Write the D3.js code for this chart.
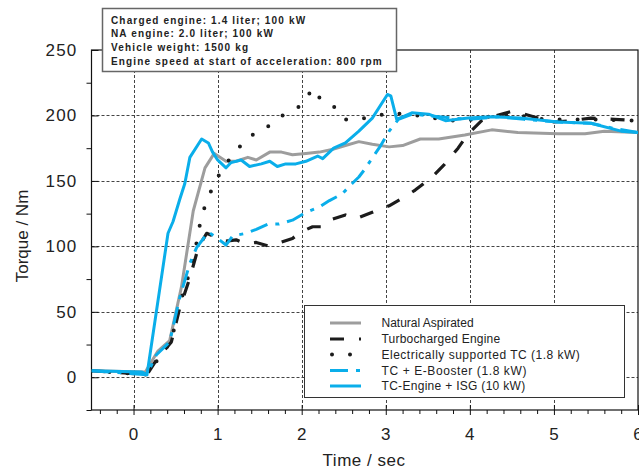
<!DOCTYPE html>
<html><head><meta charset="utf-8">
<script src="https://cdn.jsdelivr.net/npm/d3@7"></script>
<style>
body{margin:0;background:#fff;}
svg{display:block;font-family:"Liberation Sans",Arial,sans-serif;}
</style></head>
<body><svg id="c" width="639" height="469"></svg>
<script>
// ---- data ----
const xTicks = [0,1,2,3,4,5,6];
const yTicks = [0,50,100,150,200,250];
const infoLines = [
  "Charged engine: 1.4 liter; 100 kW",
  "NA engine: 2.0 liter; 100 kW",
  "Vehicle weight: 1500 kg",
  "Engine speed at start of acceleration: 800 rpm"
];
const seriesNames = [
  "Natural Aspirated",
  "Turbocharged Engine",
  "Electrically supported TC (1.8 kW)",
  "TC + E-Booster (1.8 kW)",
  "TC-Engine + ISG (10 kW)"
];
const naT = [-0.5,0.14,0.29,0.43,0.57,0.71,0.85,0.96,1.10,1.22,1.36,1.46,1.62,1.76,1.89,2.05,2.21,2.36,2.52,2.68,2.84,3.04,3.20,3.41,3.63,3.94,4.26,4.57,5.05,5.37,5.60,6.0];
const naV = [5,4,20,28,69,127,160,171,165,165,168,166,172,172,170,171,172,174,177,180,178,176,177,182,182,185,189,187,186,186,188,187];
const tcT = [-0.5,0.16,0.27,0.45,0.55,0.67,0.77,0.87,0.98,1.10,1.22,1.34,1.46,1.62,1.75,1.89,1.99,2.13,2.25,2.33,2.52,2.64,2.84,3.04,3.23,3.35,3.55,3.69,3.86,3.98,4.14,4.26,4.49,4.65,4.81,5.0,5.2,5.44,5.72,6.0];
const tcV = [5,2,13,27,53,76,99,110,107,104,105,102,103,100,103,106,111,115,115,120,124,121,126,131,138,143,153,162,175,186,196,199,203,201,198,195,196,198,197,196];
const etcT = [-0.5,0.16,0.45,0.55,0.71,0.79,0.85,0.94,1.06,1.20,1.36,1.54,1.69,1.89,2.01,2.13,2.23,2.38,2.50,2.68,3.07,3.51,3.71,4.14,4.26,4.49,4.89,5.5,6.0];
const etcV = [5,2,28,56,89,117,131,145,160,171,184,188,197,204,208,221,212,207,197,197,202,199,196,197,200,201,197,197,196];
const ebT = [-0.5,0.16,0.27,0.43,0.55,0.67,0.75,0.89,0.98,1.10,1.18,1.34,1.46,1.60,1.73,1.89,2.05,2.21,2.33,2.48,2.60,2.68,2.74,2.94,3.04,3.15,3.31,3.98,4.34,4.65,5.05,5.44,5.72,6.0];
const ebV = [5,2,17,27,61,87,99,111,107,101,108,110,113,117,117,120,126,130,135,140,148,153,158,177,188,197,201,197,199,197,195,194,190,187];
const isgT = [-0.5,0.10,0.16,0.41,0.47,0.55,0.61,0.67,0.81,0.89,0.94,1.0,1.10,1.16,1.28,1.38,1.52,1.62,1.71,1.81,1.93,2.05,2.19,2.25,2.38,2.52,2.68,2.84,3.02,3.06,3.13,3.31,3.51,3.71,3.98,4.26,4.6,5.05,5.44,5.8,6.0];
const isgV = [5,4,2,110,119,136,148,168,182,179,172,166,160,164,166,161,163,165,161,163,163,165,169,167,175,179,188,198,216,215,197,202,201,196,198,199,198,195,194,188,187];

// ---- layout ----
const svg = d3.select("#c");
const L = 91.5, R = 638, T = 50, B = 410;
const x = d3.scaleLinear().domain([-0.5,6]).range([L,R]);
const y = d3.scaleLinear().domain([-25,250]).range([B,T]);

const styles = [
  {color:"#9d9d9d", dash:null, w:3, cap:"butt"},
  {color:"#1c1c1c", dash:"14 15", w:3.2, cap:"butt"},
  {color:"#1c1c1c", dash:"0 18", w:4, cap:"round"},
  {color:"#0aaeea", dash:"18 8 4 8", w:3, cap:"butt"},
  {color:"#0aaeea", dash:null, w:3, cap:"butt"}
];
const series = [[naT,naV],[tcT,tcV],[etcT,etcV],[ebT,ebV],[isgT,isgV]];

svg.append("clipPath").attr("id","pc").append("rect")
  .attr("x",L).attr("y",T).attr("width",R-L).attr("height",B-T);

// grid
const grid = svg.append("g").attr("stroke","#444").attr("stroke-width",1).attr("stroke-dasharray","3 2");
grid.selectAll("line.v").data([0,1,2,3,4,5]).join("line")
  .attr("x1",d=>Math.round(x(d))+0.5).attr("x2",d=>Math.round(x(d))+0.5)
  .attr("y1",T).attr("y2",B);
grid.selectAll("line.h").data([0,50,100,150,200]).join("line")
  .attr("y1",d=>Math.round(y(d))+0.5).attr("y2",d=>Math.round(y(d))+0.5)
  .attr("x1",L).attr("x2",R);

// frame
svg.append("rect").attr("x",L).attr("y",T).attr("width",R-L).attr("height",B-T)
  .attr("fill","none").attr("stroke","#111").attr("stroke-width",1.2);

// axes
const yMinor = d3.range(-25,251,25).filter(v=>v%50!==0);
const gy = svg.append("g").attr("transform",`translate(${L},0)`);
gy.call(d3.axisLeft(y).tickValues(yMinor).tickSize(5).tickFormat(""))
  .call(g=>g.select(".domain").remove());
const gyM = svg.append("g").attr("transform",`translate(${L},0)`);
gyM.call(d3.axisLeft(y).tickValues(yTicks).tickSize(7).tickPadding(7))
  .call(g=>g.select(".domain").remove());
gyM.selectAll(".tick line").attr("x2",7);
gyM.selectAll(".tick text").attr("font-size",17).attr("letter-spacing","1.2px")
  .attr("fill","#222").attr("font-family","Liberation Sans, Arial, sans-serif");
svg.selectAll(".tick line").attr("stroke","#111");

const xMinor = d3.range(-0.4,6,0.2).map(v=>+v.toFixed(1)).filter(v=>Math.abs(v-Math.round(v))>0.01);
const gx = svg.append("g").attr("transform",`translate(0,${B})`);
gx.call(d3.axisBottom(x).tickValues(xMinor).tickSize(4).tickFormat(""))
  .call(g=>g.select(".domain").remove());
const gxM = svg.append("g").attr("transform",`translate(0,${B})`);
gxM.call(d3.axisBottom(x).tickValues(xTicks).tickSize(5).tickFormat(""))
  .call(g=>g.select(".domain").remove());
gxM.selectAll(".tick line").attr("y1",-5);
svg.selectAll(".tick line").attr("stroke","#111");
svg.append("g").selectAll("text").data(xTicks).join("text")
  .attr("x",d=>x(d)).attr("y",440).attr("text-anchor","middle")
  .attr("font-size",17).attr("fill","#222").text(d=>d);

// axis titles
svg.append("text").attr("x",364).attr("y",466).attr("text-anchor","middle")
  .attr("font-size",17).attr("fill","#222").attr("letter-spacing","0.5px").text("Time / sec");
svg.append("text").attr("transform","translate(28,236) rotate(-90)").attr("text-anchor","middle")
  .attr("font-size",17).attr("fill","#222").text("Torque / Nm");

// series
const line = d3.line().x(d=>x(d[0])).y(d=>y(d[1]));
const pg = svg.append("g").attr("clip-path","url(#pc)");
series.forEach((s,i)=>{
  const pts = s[0].map((t,j)=>[t,s[1][j]]);
  pg.append("path").attr("d",line(pts)).attr("fill","none")
    .attr("stroke",styles[i].color).attr("stroke-width",styles[i].w)
    .attr("stroke-dasharray",styles[i].dash).attr("stroke-linecap",styles[i].cap)
    .attr("stroke-linejoin","round");
});

// legend
const lg = svg.append("g");
lg.append("rect").attr("x",304.5).attr("y",305.5).attr("width",320).attr("height",92)
  .attr("fill","#fff").attr("stroke","#333").attr("stroke-width",1);
const rowY = [323,339,354.5,370.5,386];
const lgSpacing = [0, 0.2, 0.5, 0.6, 0.3];
seriesNames.forEach((n,i)=>{
  lg.append("line").attr("x1",330).attr("x2",361).attr("y1",rowY[i]).attr("y2",rowY[i])
    .attr("stroke",styles[i].color).attr("stroke-width",styles[i].w)
    .attr("stroke-dasharray",styles[i].dash).attr("stroke-linecap",styles[i].cap)
    .attr("stroke-dashoffset", i===2 ? -2 : 0);
  lg.append("text").attr("x",381.5).attr("y",rowY[i]+4).attr("font-size",12)
    .attr("letter-spacing",lgSpacing[i]+"px")
    .attr("fill","#222").text(n);
});

// info box
const ib = svg.append("g");
ib.append("rect").attr("x",102.5).attr("y",8.5).attr("width",294).attr("height",63)
  .attr("fill","#fff").attr("stroke","#666").attr("stroke-width",1.5);
infoLines.forEach((s,i)=>{
  ib.append("text").attr("x",111).attr("y",23.5+i*13.9).attr("font-size",10)
    .attr("font-weight","bold").attr("letter-spacing","1.15px").attr("fill","#222").text(s);
});
</script></body></html>
